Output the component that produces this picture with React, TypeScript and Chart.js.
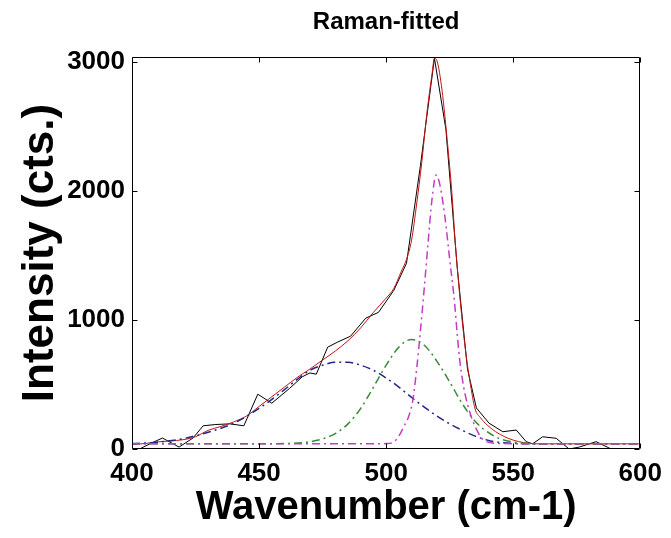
import React, { useEffect, useRef } from "react";
import { Chart, registerables } from "chart.js";

Chart.register(...registerables);

// Raw measured spectrum (black)
const rawX = [403, 407.5, 412, 418.5, 424, 428, 433, 438.5, 444, 449.5, 455, 462, 467, 470, 472.5, 477, 481, 486, 492, 497, 503, 508, 513.5, 519, 523.5, 528, 532, 535.5, 540.5, 545.9, 551.2, 555.1, 557.6, 561.6, 566.9, 572, 576, 582.6, 588, 590.6];
const rawY = [0, 45, 85, 15, 85, 180, 190, 195, 180, 425, 355, 470, 560, 590, 580, 790, 830, 875, 1015, 1060, 1230, 1440, 2200, 3030, 2480, 1400, 620, 318, 200, 134, 147, 57, 40, 95, 83, 0, 15, 57, 5, 0];

// Total fit (red)
const fitX = [400, 405, 410, 415, 420, 425, 430, 435, 440, 445, 450, 455, 460, 465, 470, 475, 480, 485, 490, 495, 500, 503, 506, 508, 510, 512, 514, 516, 518, 519, 520, 522, 524, 526, 527, 529, 531, 533, 535, 537, 539, 541, 543, 545, 548, 552, 556, 560, 570, 580, 590, 600];
const fitY = [35, 42, 55, 62, 72, 95, 145, 175, 210, 255, 330, 405, 480, 555, 620, 690, 760, 840, 940, 1060, 1170, 1245, 1380, 1470, 1620, 1900, 2220, 2600, 2900, 3030, 3010, 2780, 2400, 1950, 1650, 1180, 800, 520, 310, 245, 200, 165, 135, 112, 83, 58, 45, 40, 40, 40, 40, 40];

// Component 1 (blue, broad)
const blueX = [400, 410, 420, 430, 440, 450, 460, 465, 470, 475, 480, 485, 490, 495, 500, 505, 510, 515, 520, 525, 530, 535, 540, 545, 550, 560, 580, 600];
const blueY = [42, 52, 80, 130, 200, 315, 460, 540, 610, 650, 672, 672, 650, 610, 550, 480, 400, 325, 255, 195, 145, 100, 68, 50, 43, 40, 40, 40];

// Component 2 (green)
const greenX = [400, 450, 460, 465, 470, 475, 480, 485, 490, 495, 500, 505, 510, 515, 520, 525, 530, 535, 540, 545, 550, 555, 560, 600];
const greenY = [40, 40, 42, 46, 56, 78, 120, 195, 315, 480, 650, 790, 850, 805, 680, 520, 350, 215, 130, 78, 54, 44, 40, 40];

// Component 3 (magenta, sharp)
const magX = [400, 495, 500, 503, 505, 507, 509, 510.5, 512, 513.5, 515, 516.5, 518, 519.7, 521, 523, 525, 527, 528, 529, 530, 531, 533, 535, 538, 541, 545, 600];
const magY = [40, 40, 42, 55, 100, 175, 260, 380, 620, 920, 1250, 1600, 1930, 2125, 2060, 1820, 1470, 1120, 880, 680, 540, 430, 280, 175, 75, 50, 42, 40];

const xTicks = [400, 450, 500, 550, 600];
const yTicks = [0, 1000, 2000, 3000];

const FONT = "Arial, 'Liberation Sans', Helvetica, sans-serif";

const pts = (xs: number[], ys: number[]) => xs.map((x, i) => ({ x, y: ys[i] }));

const boxPlugin = {
  id: "matlabBox",
  afterDatasetsDraw(chart: any) {
    const { ctx, chartArea: a, scales } = chart;
    const L = 5;
    ctx.save();
    ctx.strokeStyle = "#000";
    ctx.lineWidth = 1;
    const l = Math.round(a.left) + 0.5;
    const r = Math.round(a.right) - 0.5;
    const t = Math.round(a.top) + 0.5;
    const b = Math.round(a.bottom) - 0.5;
    ctx.beginPath();
    ctx.rect(l, t, r - l, b - t);
    for (const v of xTicks) {
      const px = Math.round(scales.x.getPixelForValue(v)) + 0.5;
      ctx.moveTo(px, b);
      ctx.lineTo(px, b - L);
      ctx.moveTo(px, t);
      ctx.lineTo(px, t + L);
    }
    for (const v of yTicks) {
      const py = Math.round(scales.y.getPixelForValue(v)) + 0.5;
      ctx.moveTo(l, py);
      ctx.lineTo(l + L, py);
      ctx.moveTo(r, py);
      ctx.lineTo(r - L, py);
    }
    ctx.stroke();
    ctx.restore();
  },
};

export default function App() {
  const ref = useRef<HTMLCanvasElement | null>(null);

  useEffect(() => {
    if (!ref.current) return;
    const dashDot = [8, 4, 2, 4];
    const chart = new Chart(ref.current, {
      type: "scatter",
      data: {
        datasets: [
          {
            label: "Component 3",
            data: pts(magX, magY),
            showLine: true,
            borderColor: "#c43cc4",
            borderWidth: 1.5,
            borderDash: dashDot,
            pointRadius: 0,
            cubicInterpolationMode: "monotone",
            order: 0,
          },
          {
            label: "Component 2",
            data: pts(greenX, greenY),
            showLine: true,
            borderColor: "#3a8a3a",
            borderWidth: 1.5,
            borderDash: dashDot,
            pointRadius: 0,
            cubicInterpolationMode: "monotone",
            order: 1,
          },
          {
            label: "Component 1",
            data: pts(blueX, blueY),
            showLine: true,
            borderColor: "#25258c",
            borderWidth: 1.5,
            borderDash: dashDot,
            pointRadius: 0,
            cubicInterpolationMode: "monotone",
            order: 2,
          },
          {
            label: "Fit",
            data: pts(fitX, fitY),
            showLine: true,
            borderColor: "#c41414",
            borderWidth: 1,
            pointRadius: 0,
            cubicInterpolationMode: "monotone",
            order: 3,
          },
          {
            label: "Raw",
            data: pts(rawX, rawY),
            showLine: true,
            borderColor: "#000000",
            borderWidth: 1,
            pointRadius: 0,
            order: 4,
          },
        ],
      },
      options: {
        animation: false,
        responsive: false,
        devicePixelRatio: 1,
        layout: { padding: { left: 0, right: 29, top: 0, bottom: 0 } },
        plugins: {
          legend: { display: false },
          tooltip: { enabled: false },
          title: {
            display: true,
            fullSize: false,
            text: "Raman-fitted",
            color: "#000",
            font: { family: FONT, size: 24, weight: "bold", lineHeight: 1.2 },
            padding: { top: 8, bottom: 20.2 },
          },
        },
        scales: {
          x: {
            type: "linear",
            min: 400,
            max: 600,
            afterBuildTicks: (s: any) => {
              s.ticks = xTicks.map((v) => ({ value: v }));
            },
            afterFit: (s: any) => {
              s.height = 89;
            },
            grid: { display: false, drawTicks: false, tickLength: 0 },
            border: { display: false },
            ticks: {
              color: "#000",
              font: { family: FONT, size: 26, weight: "bold" },
              padding: 9,
              maxRotation: 0,
              autoSkip: false,
              callback: (v: any) => String(v),
            },
            title: {
              display: true,
              text: "Wavenumber (cm-1)",
              color: "#000",
              font: { family: FONT, size: 40, weight: "bold", lineHeight: 1 },
              padding: { top: 0, bottom: 10 },
            },
          },
          y: {
            type: "linear",
            min: 0,
            max: 3040,
            afterBuildTicks: (s: any) => {
              s.ticks = yTicks.map((v) => ({ value: v }));
            },
            afterFit: (s: any) => {
              s.width = 132;
            },
            grid: { display: false, drawTicks: false, tickLength: 0 },
            border: { display: false },
            ticks: {
              color: "#000",
              font: { family: FONT, size: 26, weight: "bold" },
              padding: 7,
              autoSkip: false,
              callback: (v: any) => String(v),
            },
            title: {
              display: true,
              text: "Intensity (cts.)",
              color: "#000",
              font: { family: FONT, size: 44, weight: "bold", lineHeight: 1 },
              padding: { top: 19, bottom: 0 },
            },
          },
        },
      },
      plugins: [boxPlugin],
    } as any);
    return () => chart.destroy();
  }, []);

  return (
    <div style={{ position: "absolute", left: 0, top: 0, width: 671, height: 538, background: "#fff" }}>
      <canvas ref={ref} width={671} height={538} style={{ display: "block", width: 671, height: 538 }} />
    </div>
  );
}
